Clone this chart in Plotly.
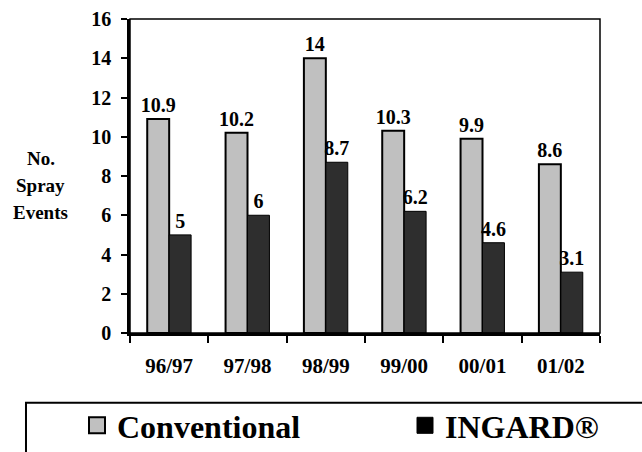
import plotly.graph_objects as go

seasons = ["96/97", "97/98", "98/99", "99/00", "00/01", "01/02"]
conventional = [10.9, 10.2, 14, 10.3, 9.9, 8.6]
ingard = [5, 6, 8.7, 6.2, 4.6, 3.1]
y_ticks = [0, 2, 4, 6, 8, 10, 12, 14, 16]

FONT = "Liberation Serif"
CONV_COLOR = "#c0c0c0"
ING_COLOR = "#2e2e2e"

fig = go.Figure()
fig.add_trace(go.Bar(
    x=seasons, y=conventional, name="Conventional", showlegend=False,
    marker=dict(color=CONV_COLOR, line=dict(color="black", width=2)),
    text=[f"{v:g}" for v in conventional], textposition="outside",
    textfont=dict(family=FONT, size=20, color="black", weight=700),
    cliponaxis=False, constraintext="none",
))
fig.add_trace(go.Bar(
    x=seasons, y=ingard, name="INGARD®", showlegend=False,
    marker=dict(color=ING_COLOR, line=dict(color="black", width=1)),
    text=[f"{v:g}" for v in ingard], textposition="outside",
    textfont=dict(family=FONT, size=20, color="black", weight=700),
    cliponaxis=False, constraintext="none",
))
# legend entries (one per legend box so they can sit far apart)
fig.add_trace(go.Scatter(
    x=[None], y=[None], mode="markers", name="Conventional", legend="legend",
    marker=dict(symbol="square", size=16, color=CONV_COLOR, line=dict(color="black", width=2)),
))
fig.add_trace(go.Scatter(
    x=[None], y=[None], mode="markers", name="INGARD®", legend="legend2",
    marker=dict(symbol="square", size=16, color="black", line=dict(color="black", width=1)),
))

legend_common = dict(
    orientation="h", xref="container", yref="container",
    xanchor="left", yanchor="top",
    font=dict(family=FONT, size=32, color="black", weight=700),
    bgcolor="rgba(0,0,0,0)", borderwidth=0,
)

fig.update_layout(
    width=642, height=452,
    margin=dict(l=130, r=42, t=19, b=119, autoexpand=False),
    paper_bgcolor="white", plot_bgcolor="white",
    barmode="group", bargap=0.44, bargroupgap=0,
    font=dict(family=FONT, color="black", weight=700),
    showlegend=True,
    legend=dict(x=77 / 642, y=1 - 398 / 452, **legend_common),
    legend2=dict(x=405 / 642, y=1 - 398 / 452, **legend_common),
    xaxis=dict(
        type="category", categoryorder="array", categoryarray=seasons,
        showline=True, linecolor="black", linewidth=2.5,
        ticks="outside", tickson="boundaries", ticklen=7, tickwidth=2, tickcolor="black",
        tickfont=dict(family=FONT, size=21, color="black", weight=700),
        ticklabelstandoff=12,
        showgrid=False, zeroline=False, automargin=False,
    ),
    yaxis=dict(
        range=[0, 16], tickvals=y_ticks,
        showline=True, linecolor="black", linewidth=2.5,
        ticks="outside", ticklen=6, tickwidth=2, tickcolor="black",
        tickfont=dict(family=FONT, size=20, color="black", weight=700),
        ticklabelstandoff=6,
        showgrid=False, zeroline=False, automargin=False,
    ),
    shapes=[
        dict(type="rect", xref="paper", yref="paper", x0=0, x1=1, y0=0, y1=1,
             line=dict(color="black", width=1.5), layer="above"),
        dict(type="rect", xref="paper", yref="paper", x0=-0.2213, x1=1.2, y0=-0.222, y1=-0.5,
             line=dict(color="black", width=2), layer="above"),
    ],
    annotations=[
        dict(text="No.", xref="paper", yref="paper", x=-0.19, y=0.555, showarrow=False,
             xanchor="center", yanchor="middle",
             font=dict(family=FONT, size=19, color="black", weight=700)),
        dict(text="Spray", xref="paper", yref="paper", x=-0.19, y=0.47, showarrow=False,
             xanchor="center", yanchor="middle",
             font=dict(family=FONT, size=19, color="black", weight=700)),
        dict(text="Events", xref="paper", yref="paper", x=-0.19, y=0.385, showarrow=False,
             xanchor="center", yanchor="middle",
             font=dict(family=FONT, size=19, color="black", weight=700)),
    ],
)

fig.write_html("out.html")
